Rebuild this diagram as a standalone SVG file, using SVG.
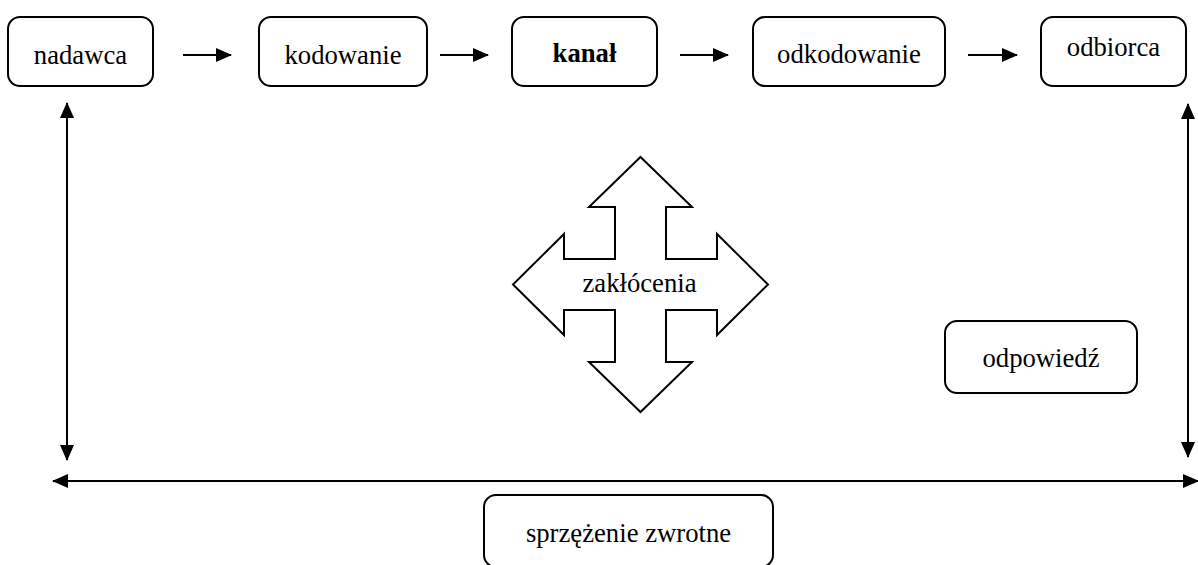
<svg xmlns="http://www.w3.org/2000/svg" width="1198" height="565" viewBox="0 0 1198 565">
  <style>
    .box { fill: #ffffff; stroke: #000000; stroke-width: 2; }
    .lbl { font-size: 26.7px; fill: #000000; text-anchor: middle; }
    .bold { font-weight: bold; }
    .wire { fill: none; stroke: #000000; stroke-width: 2; }
    .cross { fill: #ffffff; stroke: #000000; stroke-width: 2; stroke-linejoin: miter; }
  </style>
  <defs>
    <marker id="head" viewBox="0 0 16 14" refX="15" refY="7" markerWidth="16" markerHeight="14" markerUnits="userSpaceOnUse" orient="auto-start-reverse">
      <path d="M0,0 L16,7 L0,14 Z" fill="#000000"/>
    </marker>
  </defs>

  <rect width="1198" height="565" fill="#ffffff"/>

  <!-- connectors -->
  <g id="connectors">
    <line class="wire" x1="183" y1="55" x2="231" y2="55" marker-end="url(#head)"/>
    <line class="wire" x1="440" y1="55" x2="488" y2="55" marker-end="url(#head)"/>
    <line class="wire" x1="680" y1="55" x2="728" y2="55" marker-end="url(#head)"/>
    <line class="wire" x1="968" y1="55" x2="1017" y2="55" marker-end="url(#head)"/>
    <line class="wire" x1="67" y1="103" x2="67" y2="460" marker-start="url(#head)" marker-end="url(#head)"/>
    <line class="wire" x1="1188" y1="104" x2="1188" y2="457" marker-start="url(#head)" marker-end="url(#head)"/>
    <line class="wire" x1="53" y1="481" x2="1198" y2="481" marker-start="url(#head)" marker-end="url(#head)"/>
  </g>

  <!-- all labels share one serif face -->
  <g font-family="'Liberation Serif', Tinos, 'Times New Roman', serif">
    <!-- message chain -->
    <g id="nadawca">
      <rect class="box" x="8" y="17" width="145" height="69" rx="12"/>
      <text class="lbl" x="80.5" y="64">nadawca</text>
    </g>
    <g id="kodowanie">
      <rect class="box" x="259" y="17" width="168" height="69" rx="12"/>
      <text class="lbl" x="343" y="64">kodowanie</text>
    </g>
    <g id="kanal">
      <rect class="box" x="512" y="17" width="145" height="69" rx="12"/>
      <text class="lbl bold" x="584.5" y="62">kanał</text>
    </g>
    <g id="odkodowanie">
      <rect class="box" x="753" y="17" width="192" height="69" rx="12"/>
      <text class="lbl" x="849" y="63">odkodowanie</text>
    </g>
    <g id="odbiorca">
      <rect class="box" x="1041" y="17" width="145" height="69" rx="12"/>
      <text class="lbl" x="1113.5" y="56">odbiorca</text>
    </g>

    <!-- noise: four-way arrow -->
    <g id="zaklocenia">
      <path class="cross" d="M640.5,157 L692,207 L666,207 L666,259 L717,259 L717,234 L768,284.5 L717,335 L717,310 L666,310 L666,362 L692,362 L640.5,412 L589,362 L615,362 L615,310 L564,310 L564,335 L513,284.5 L564,234 L564,259 L615,259 L615,207 L589,207 Z"/>
      <text class="lbl" x="639.5" y="292">zakłócenia</text>
    </g>

    <g id="odpowiedz">
      <rect class="box" x="945" y="321" width="192" height="72" rx="12"/>
      <text class="lbl" x="1041" y="367">odpowiedź</text>
    </g>

    <g id="sprzezenie">
      <rect class="box" x="484" y="495" width="289" height="72" rx="12"/>
      <text class="lbl" x="628.5" y="542">sprzężenie zwrotne</text>
    </g>
  </g>
</svg>
